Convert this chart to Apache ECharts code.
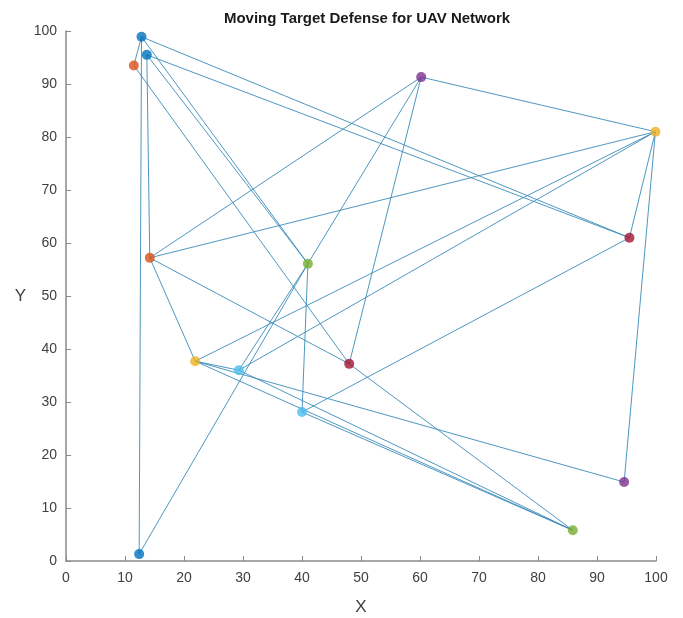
<!DOCTYPE html>
<html>
<head>
<meta charset="utf-8">
<script src="https://cdn.jsdelivr.net/npm/echarts@6/dist/echarts.min.js"></script>
<style>html,body{margin:0;padding:0;background:#fff}#c{width:683px;height:618px}</style>
</head>
<body>
<div id="c"></div>
<script>
// Node positions and their colour (index into MATLAB colour order)
const nodeX = [12.8, 13.7, 11.5, 60.2, 99.9, 95.5, 14.2, 41.0, 48.0, 21.9, 29.3, 40.0, 94.6, 85.9, 12.4];
const nodeY = [98.9, 95.5, 93.5, 91.3, 81.0, 61.0, 57.2, 56.1, 37.2, 37.7, 36.0, 28.1, 14.9, 5.8, 1.3];
const nodeColor = [0, 0, 1, 3, 2, 6, 1, 4, 6, 2, 5, 5, 3, 4, 0];
const palette = ['#0072BD','#D95319','#EDB120','#7E2F8E','#77AC30','#4DBEEE','#A2142F'];
// Links between nodes (index pairs)
const edgeFrom = [0,0,0,0,1,1,1,2,3,3,3,3,4,4,4,4,4,5,6,6,7,7,7,8,9,9,9,10,11];
const edgeTo   = [2,14,5,7,5,7,6,8,4,6,7,8,6,9,10,5,12,11,9,8,10,14,11,13,10,12,13,13,13];
const xTicks = [0,10,20,30,40,50,60,70,80,90,100];
const yTicks = [0,10,20,30,40,50,60,70,80,90,100];

const font = 'Liberation Sans, Arial, sans-serif';
const chart = echarts.init(document.getElementById('c'), null, {renderer:'canvas'});
const links = edgeFrom.map((a,i)=>({coords:[[nodeX[a],nodeY[a]],[nodeX[edgeTo[i]],nodeY[edgeTo[i]]]]}));
const pts = nodeX.map((x,i)=>({value:[x,nodeY[i]], itemStyle:{color:palette[nodeColor[i]]}}));
const axisCommon = {
  min:0, max:100, interval:10,
  axisLine:{show:true, onZero:false, lineStyle:{color:'#8a8a8a', width:1.5}},
  axisTick:{show:true, inside:true, length:5, lineStyle:{color:'#8a8a8a'}},
  splitLine:{show:false},
  axisLabel:{color:'#404040', fontSize:14, fontFamily:font},
  nameTextStyle:{color:'#404040', fontSize:17, fontFamily:font}
};
chart.setOption({
  animation:false,
  backgroundColor:'#fff',
  title:{text:'Moving Target Defense for UAV Network', left:362, top:6, textAlign:'center',
    textStyle:{fontFamily:'Liberation Sans Narrow, Liberation Sans, Arial', fontWeight:'bold', fontSize:15, color:'#1a1a1a'}},
  grid:{left:66, top:31, width:590, height:530, containLabel:false, outerBoundsMode:'none'},
  xAxis:Object.assign({}, axisCommon, {type:'value', name:'X', nameLocation:'middle', nameGap:38,
    axisLabel:Object.assign({}, axisCommon.axisLabel, {margin:10, formatter:v=>xTicks.includes(v)?String(v):''})}),
  yAxis:Object.assign({}, axisCommon, {type:'value', name:'Y', nameLocation:'middle', nameGap:40, nameRotate:0,
    axisLabel:Object.assign({}, axisCommon.axisLabel, {margin:9, formatter:v=>yTicks.includes(v)?String(v):''})}),
  series:[
    {type:'lines', coordinateSystem:'cartesian2d', data:links, silent:true, z:2,
      lineStyle:{color:'#3b8cba', width:1, opacity:0.9}},
    {type:'scatter', data:pts, symbol:'circle', symbolSize:10, z:3}
  ]
});
</script>
</body>
</html>
